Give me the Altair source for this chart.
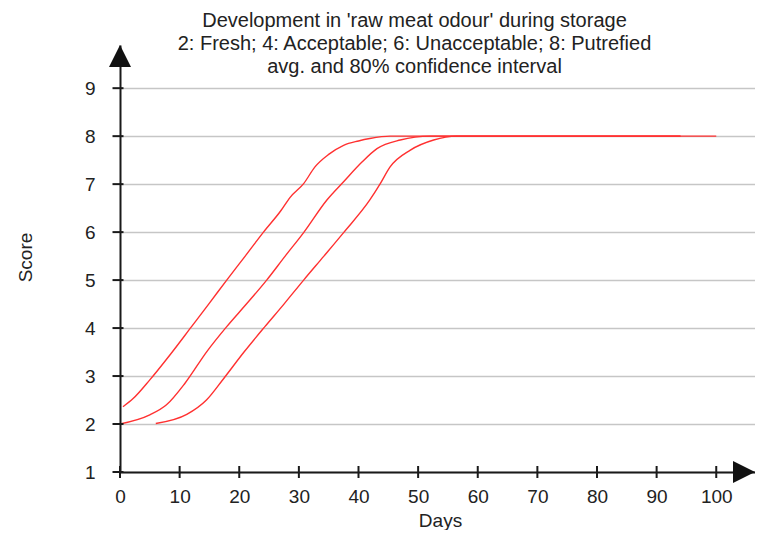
import altair as alt
import pandas as pd

# ---- data ----
upper_days = [0.5, 2.2, 5.0, 8.5, 12.0, 15.0, 17.9, 21.0, 24.0, 27.0, 28.5, 30.8, 32.7, 35.0, 37.5, 40.0, 41.9, 45.3, 60, 80, 94]
upper_score = [2.36, 2.53, 2.92, 3.46, 4.03, 4.52, 5.0, 5.5, 5.99, 6.45, 6.72, 7.01, 7.36, 7.62, 7.81, 7.9, 7.95, 8.0, 8.0, 8.0, 8.0]

avg_days = [0, 5.0, 7.8, 10.9, 14.5, 17.9, 21.2, 24.6, 27.7, 30.8, 34.7, 37.5, 40.5, 43.1, 47.0, 52.0, 60, 80, 100]
avg_score = [2.0, 2.19, 2.4, 2.85, 3.5, 4.03, 4.5, 5.0, 5.5, 5.99, 6.67, 7.05, 7.45, 7.74, 7.92, 8.0, 8.0, 8.0, 8.0]

lower_days = [6.0, 11.2, 14.5, 17.4, 20.8, 24.3, 27.5, 30.8, 34.2, 37.5, 41.9, 43.6, 45.3, 48.7, 52.6, 56.5, 70, 94]
lower_score = [2.01, 2.2, 2.5, 2.95, 3.5, 4.03, 4.5, 5.0, 5.5, 5.99, 6.67, 7.0, 7.36, 7.71, 7.92, 8.0, 8.0, 8.0]

x_ticks = [0, 10, 20, 30, 40, 50, 60, 70, 80, 90, 100]
y_ticks = [1, 2, 3, 4, 5, 6, 7, 8, 9]

title_lines = [
    "Development in 'raw meat odour' during storage",
    "2: Fresh; 4: Acceptable; 6: Unacceptable; 8: Putrefied",
    "avg. and 80% confidence interval",
]

X_MAX = 106.5
Y_MIN = 1
Y_MAX = 9.9
FONT = "Liberation Sans"
INK = "#1a1a1a"
TXT = "#222222"

rows = []
for name, dd, ss in [("upper", upper_days, upper_score), ("avg", avg_days, avg_score), ("lower", lower_days, lower_score)]:
    for i, (d, s) in enumerate(zip(dd, ss)):
        rows.append({"series": name, "day": d, "score": s, "order": i})
df = pd.DataFrame(rows)

xs = alt.Scale(domain=[0, X_MAX], nice=False, zero=False)
ys = alt.Scale(domain=[Y_MIN, Y_MAX], nice=False, zero=False)

x_axis = alt.Axis(
    values=x_ticks, title="Days", grid=False, ticks=False, tickSize=0,
    labelFont=FONT, labelFontSize=19, labelColor=TXT, labelPadding=30,
    labelBaseline="alphabetic", labelFlush=False, labelOverlap=False,
    domainColor=INK, domainWidth=2,
    titleFont=FONT, titleFontSize=19, titleFontWeight="normal", titleColor=TXT,
    titleBaseline="alphabetic", titleY=54, titleX=320, titleAlign="center",
)
y_axis = alt.Axis(
    values=y_ticks, title="Score", grid=True, gridColor="#c6c6c6", gridWidth=1.6,
    ticks=False, tickSize=0,
    labelFont=FONT, labelFontSize=19, labelColor=TXT, labelPadding=25,
    labelFlush=False, labelOverlap=False,
    domainColor=INK, domainWidth=2,
    titleFont=FONT, titleFontSize=19, titleFontWeight="normal", titleColor=TXT,
    titleAngle=-90, titleAlign="center", titleBaseline="middle",
    titleX=-95, titleY=212,
)

X = alt.X("day:Q", scale=xs, axis=x_axis)
Y = alt.Y("score:Q", scale=ys, axis=y_axis)

lines = alt.Chart(df).mark_line(color="#ff3030", strokeWidth=1.4, interpolate="monotone").encode(
    x=X, y=Y, detail="series:N", order="order:Q",
)

xt = pd.DataFrame({"day": x_ticks, "score": [Y_MIN] * len(x_ticks)})
yt = pd.DataFrame({"day": [0] * len(y_ticks), "score": y_ticks})

xtick_layer = alt.Chart(xt).mark_tick(orient="vertical", size=12, thickness=2, color=INK, opacity=1).encode(x=X, y=Y)
ytick_layer = alt.Chart(yt).mark_tick(orient="horizontal", size=11, thickness=2, color=INK, opacity=1, xOffset=-2).encode(x=X, y=Y)

up_arrow = alt.Chart(pd.DataFrame({"day": [0], "score": [Y_MAX]})).mark_point(
    shape="M0,0L-1,2L1,2Z", size=484, filled=True, color="#111111", opacity=1, strokeWidth=0
).encode(x=X, y=Y)

right_arrow = alt.Chart(pd.DataFrame({"day": [X_MAX], "score": [Y_MIN]})).mark_point(
    shape="M0,0L-2,-1L-2,1Z", size=484, filled=True, color="#111111", opacity=1, strokeWidth=0
).encode(x=X, y=Y)

chart = alt.layer(lines, xtick_layer, ytick_layer, up_arrow, right_arrow).properties(
    width=635,
    height=427,
    title=alt.TitleParams(
        text=title_lines, font=FONT, fontSize=20, fontWeight="normal", color=TXT,
        lineHeight=23, anchor="middle", frame="group", dx=-23, offset=-48,
        baseline="alphabetic",
    ),
    autosize=alt.AutoSizeParams(type="none"),
    padding={"left": 112, "top": 37, "right": 0, "bottom": 58},
    background="white",
).configure_view(stroke=None)

chart.save("out.html", embed_options={"renderer": "svg", "actions": False})
